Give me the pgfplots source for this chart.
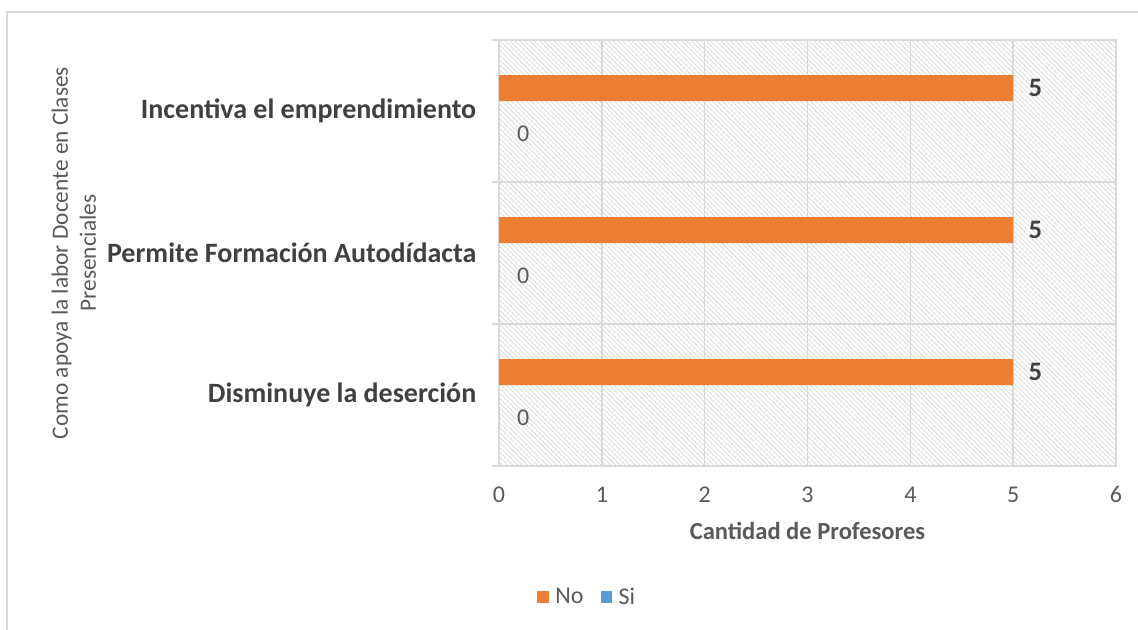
\documentclass[border=0pt]{standalone}
\usepackage{fontspec}
\setmainfont{Carlito}
\usepackage{pgfplots}
\pgfplotsset{compat=1.18}
\usetikzlibrary{patterns.meta}
\definecolor{orng}{HTML}{ED7D31}
\definecolor{blu}{HTML}{5B9BD5}
\definecolor{txt}{HTML}{595959}
\definecolor{dark}{HTML}{404040}
\definecolor{grd}{HTML}{D9D9D9}
\begin{document}
\begin{tikzpicture}
\useasboundingbox (0,0) rectangle (853.5pt,-471.75pt);
\draw[grd, line width=1.2pt] (5.25pt,-480pt) -- (5.25pt,-9pt) -- (860pt,-9pt);
\begin{axis}[
  at={(374.25pt,-349.5pt)}, anchor=south west,
  scale only axis, width=462.75pt, height=319.5pt,
  xbar, bar width=0.183,
  xmin=0, xmax=6, ymin=-0.5, ymax=2.5,
  xtick={0,...,6}, ytick={0,1,2},
  yticklabels={Disminuye la deserción, Permite Formación Autodídacta, Incentiva el emprendimiento},
  minor ytick={-0.5,0.5,1.5,2.5},
  xmajorgrids, yminorgrids,
  major grid style={grd, line width=1.1pt},
  minor grid style={grd, line width=1.1pt},
  axis line style={grd, line width=1.1pt},
  major tick length=0pt, minor tick length=5.5pt, tick align=outside,
  minor tick style={grd, line width=1.1pt},
  xtick pos=bottom, ytick pos=left,
  axis background/.style={pattern={Lines[angle=-45,distance=2.6pt,line width=0.55pt]}, pattern color=grd},
  /pgf/number format/assume math mode=true,
  xticklabel style={font=\fontsize{18}{21}\selectfont, text=txt, yshift=-12pt},
  yticklabel style={font=\fontsize{21}{25}\selectfont\bfseries, text=dark, xshift=-13.5pt},
  xlabel={Cantidad de Profesores},
  xlabel style={font=\fontsize{18.4}{22}\selectfont\bfseries, text=txt, at={(axis description cs:0.5,-0.153)}, anchor=center},
  ylabel={Como apoya la labor Docente en Clases\\Presenciales},
  ylabel style={font=\fontsize{17.5}{21}\selectfont, text=txt, at={(axis description cs:-0.689,0.5)}, anchor=center, align=center},
  legend style={draw=none, fill=none, font=\fontsize{18}{21}\selectfont, text=txt, legend columns=2,
    at={(axis description cs:0.147,-0.3075)}, anchor=center,
    /tikz/every even column/.append style={column sep=8pt}},
  legend image code/.code={\fill[#1] (0pt,-4.2pt) rectangle (8.4pt,4.2pt);},
  legend style={/tikz/every odd column/.append style={column sep=0pt}, nodes={inner xsep=5pt}},
]
\addplot[fill=orng, draw=none, bar shift=0.162, point meta=x, nodes near coords,
  every node near coord/.append style={font=\fontsize{20}{24}\selectfont\bfseries, text=dark, anchor=west, xshift=8pt}]
  coordinates {(5,0) (5,1) (5,2)};
\addplot[fill=blu, draw=none, bar shift=-0.162, point meta=x, nodes near coords,
  every node near coord/.append style={font=\fontsize{18}{21}\selectfont, text=txt, anchor=west, xshift=10pt}]
  coordinates {(0,0) (0,1) (0,2)};
\legend{No,Si}
\end{axis}
\end{tikzpicture}
\end{document}
